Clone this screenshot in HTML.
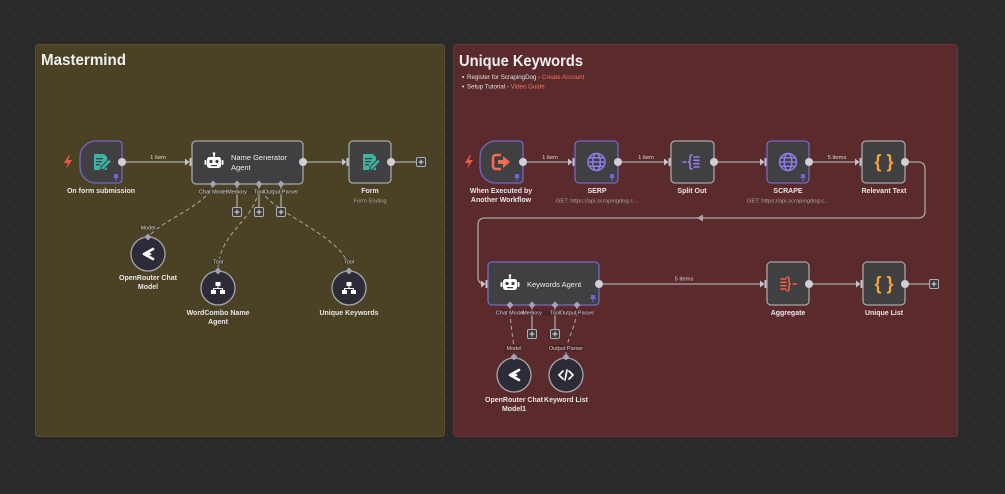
<!DOCTYPE html>
<html><head><meta charset="utf-8">
<style>
html,body{margin:0;padding:0;width:1005px;height:494px;overflow:hidden;background:#2a2a2a}
svg{display:block}
text{font-family:"Liberation Sans",sans-serif}
</style></head>
<body>
<svg width="1005" height="494" viewBox="0 0 1005 494" xmlns="http://www.w3.org/2000/svg">
<defs>
<pattern id="dots" width="12" height="12" patternUnits="userSpaceOnUse"><circle cx="3" cy="3" r="0.7" fill="#3d3d3d"/></pattern>
</defs>
<rect width="1005" height="494" fill="#2a2a2a"/>
<rect width="1005" height="494" fill="url(#dots)"/>

<!-- Panels -->
<rect x="35.5" y="44.5" width="409" height="392" rx="3" fill="#4b4226" stroke="#5a5030"/>
<rect x="453.5" y="44.5" width="504" height="392" rx="3" fill="#5b2a2d" stroke="#6a3538"/>

<text x="41" y="65" font-size="16" font-weight="bold" fill="#f0f0f0" textLength="85" lengthAdjust="spacingAndGlyphs">Mastermind</text>
<text x="459" y="66" font-size="16" font-weight="bold" fill="#f0f0f0" textLength="124" lengthAdjust="spacingAndGlyphs">Unique Keywords</text>
<circle cx="463" cy="77" r="1" fill="#ddd"/>
<text x="467" y="79" font-size="6.2" fill="#e0e0e0">Register for ScrapingDog - <tspan fill="#f07560">Create Account</tspan></text>
<circle cx="463" cy="86.5" r="1" fill="#ddd"/>
<text x="467" y="88.5" font-size="6.2" fill="#e0e0e0">Setup Tutorial - <tspan fill="#f07560">Video Guide</tspan></text>

<!-- ===== Solid connectors ===== -->
<g stroke="#a8a8a8" stroke-width="1.3" fill="none">
  <path d="M122,162 H186"/>
  <path d="M303,162 H343"/>
  <path d="M391,162 H417"/>
  <path d="M237,184 V208"/><path d="M259,184 V208"/><path d="M281,184 V208"/>
  <path d="M523,162 H569"/>
  <path d="M618,162 H665"/>
  <path d="M714,162 H761"/>
  <path d="M809,162 H856"/>
  <path d="M905,162 H918 Q925,162 925,169 V211 Q925,218 918,218 H485 Q478,218 478,225 V277 Q478,284 485,284 H482"/>
  <path d="M599,284 H761"/>
  <path d="M809,284 H857"/>
  <path d="M905,284 H930"/>
  <path d="M532,305 V330"/><path d="M555,305 V330"/>
</g>
<polygon points="703,214.5 697,218 703,221.5" fill="#a8a8a8"/>

<!-- ===== Dashed connectors ===== -->
<g stroke="#a0a0a0" stroke-width="1.1" fill="none" stroke-dasharray="4 3">
  <path d="M213,184 C208,205 165,218 148,237"/>
  <path d="M259,184 C259,220 218,230 218,271"/>
  <path d="M259,184 C262,212 349,235 349,271"/>
  <path d="M510,305 C510,330 514,335 514,357"/>
  <path d="M577,305 C577,330 566,335 566,357"/>
</g>

<!-- input arrows -->
<g fill="#c4c4c8">
  <polygon points="185,158.5 189.5,162 185,165.5"/><rect x="189.5" y="158" width="2.5" height="8"/>
  <polygon points="342,158.5 346.5,162 342,165.5"/><rect x="346.5" y="158" width="2.5" height="8"/>
  <polygon points="568,158.5 572.5,162 568,165.5"/><rect x="572.5" y="158" width="2.5" height="8"/>
  <polygon points="664,158.5 668.5,162 664,165.5"/><rect x="668.5" y="158" width="2.5" height="8"/>
  <polygon points="760,158.5 764.5,162 760,165.5"/><rect x="764.5" y="158" width="2.5" height="8"/>
  <polygon points="855,158.5 859.5,162 855,165.5"/><rect x="859.5" y="158" width="2.5" height="8"/>
  <polygon points="481,280.5 485.5,284 481,287.5"/><rect x="485.5" y="280" width="2.5" height="8"/>
  <polygon points="760,280.5 764.5,284 760,287.5"/><rect x="764.5" y="280" width="2.5" height="8"/>
  <polygon points="856,280.5 860.5,284 856,287.5"/><rect x="860.5" y="280" width="2.5" height="8"/>
</g>

<!-- edge labels -->
<g font-size="5.8" fill="#d4d4d4" text-anchor="middle">
  <text x="158" y="159">1 item</text>
  <text x="550" y="159">1 item</text>
  <text x="646" y="159">1 item</text>
  <text x="837" y="159">5 items</text>
  <text x="684" y="280.5">5 items</text>
</g>

<!-- ===== Nodes: Mastermind ===== -->
<path d="M96,141 H118 Q122,141 122,145 V179 Q122,183 118,183 H96 A16,16 0 0 1 80,167 V157 A16,16 0 0 1 96,141 Z" fill="#404042" stroke="#7766c4" stroke-width="1.3"/>
<path d="M69,155 L64,163 H68 L66,169 L72,160 H68 L70,155 Z" fill="#ef5a46"/>
<g transform="translate(101,162)">
  <path d="M-7,-8 H3 L6,-5 V8 H-7 Z" fill="#3db4a3"/>
  <rect x="-5" y="-4" width="7" height="1.3" fill="#404042"/>
  <rect x="-5" y="-1" width="6" height="1.3" fill="#404042"/>
  <rect x="-5" y="2" width="4" height="1.3" fill="#404042"/>
  <path d="M0,5 L8,-3 L10.5,-0.5 L2.5,7.5 L-0.5,8 Z" fill="#3db4a3" stroke="#404042" stroke-width="1"/>
</g>
<path transform="translate(116,177)" d="M-2,-3 H2 V0 L3,1 H-3 L-2,0 Z M-0.5,1 H0.5 V4 H-0.5 Z" fill="#7364e0"/>

<rect x="192" y="141" width="111" height="43" rx="4" fill="#404042" stroke="#a6a6a6" stroke-width="1.3"/>
<g transform="translate(214,162)" fill="#fff">
  <rect x="-7" y="-5" width="14" height="11" rx="2.5"/>
  <rect x="-9.5" y="-2" width="2" height="5" rx="1"/>
  <rect x="7.5" y="-2" width="2" height="5" rx="1"/>
  <rect x="-0.8" y="-8" width="1.6" height="3"/>
  <circle cx="0" cy="-8.5" r="1.3"/>
  <circle cx="-3" cy="-0.5" r="1.6" fill="#404042"/>
  <circle cx="3" cy="-0.5" r="1.6" fill="#404042"/>
  <rect x="-3" y="3" width="6" height="1.2" fill="#404042"/>
</g>
<text x="231" y="160" font-size="7.5" fill="#eeeeee">Name Generator</text>
<text x="231" y="170" font-size="7.5" fill="#eeeeee">Agent</text>

<rect x="349" y="141" width="42" height="42" rx="4" fill="#404042" stroke="#a6a6a6" stroke-width="1.3"/>
<g transform="translate(370,162)">
  <path d="M-7,-8 H3 L6,-5 V8 H-7 Z" fill="#3db4a3"/>
  <rect x="-5" y="-4" width="7" height="1.3" fill="#404042"/>
  <rect x="-5" y="-1" width="6" height="1.3" fill="#404042"/>
  <rect x="-5" y="2" width="4" height="1.3" fill="#404042"/>
  <path d="M0,5 L8,-3 L10.5,-0.5 L2.5,7.5 L-0.5,8 Z" fill="#3db4a3" stroke="#404042" stroke-width="1"/>
</g>

<!-- ===== Nodes: Unique Keywords ===== -->
<path d="M496,141 H519 Q523,141 523,145 V179 Q523,183 519,183 H496 A16,16 0 0 1 480,167 V157 A16,16 0 0 1 496,141 Z" fill="#404042" stroke="#7766c4" stroke-width="1.3"/>
<path d="M470,155 L465,163 H469 L467,169 L473,160 H469 L471,155 Z" fill="#ef5a46"/>
<g transform="translate(501,162)">
  <path d="M0,-7 H-5 Q-8,-7 -8,-4 V4 Q-8,7 -5,7 H0" stroke="#f46b4f" stroke-width="2.6" fill="none"/>
  <path d="M-3,-2 H2 V-6 L9,0 L2,6 V2 H-3 Z" fill="#f46b4f"/>
</g>
<path transform="translate(517,177)" d="M-2,-3 H2 V0 L3,1 H-3 L-2,0 Z M-0.5,1 H0.5 V4 H-0.5 Z" fill="#7364e0"/>

<rect x="575" y="141" width="43" height="42" rx="4" fill="#404042" stroke="#7766c4" stroke-width="1.3"/>
<g transform="translate(596.5,162)" stroke="#8b7ee6" stroke-width="1.5" fill="none">
  <circle r="8.5"/><ellipse rx="3.8" ry="8.5"/><path d="M-8.5,0 H8.5 M-7.3,-4.2 H7.3 M-7.3,4.2 H7.3"/>
</g>
<path transform="translate(612,177)" d="M-2,-3 H2 V0 L3,1 H-3 L-2,0 Z M-0.5,1 H0.5 V4 H-0.5 Z" fill="#7364e0"/>

<rect x="671" y="141" width="43" height="42" rx="4" fill="#404042" stroke="#a6a6a6" stroke-width="1.3"/>
<g transform="translate(692,162)" stroke="#9b7de8" stroke-width="1.6" fill="none" stroke-linecap="round">
  <path d="M-9,0 H-6"/>
  <path d="M0,-7 Q-2,-7 -2,-5 V-2 Q-2,0 -4,0 Q-2,0 -2,2 V5 Q-2,7 0,7"/>
  <path d="M2,-5 H7 M2,-1.7 H7 M2,1.7 H7 M2,5 H7"/>
</g>

<rect x="767" y="141" width="42" height="42" rx="4" fill="#404042" stroke="#7766c4" stroke-width="1.3"/>
<g transform="translate(788,162)" stroke="#8b7ee6" stroke-width="1.5" fill="none">
  <circle r="8.5"/><ellipse rx="3.8" ry="8.5"/><path d="M-8.5,0 H8.5 M-7.3,-4.2 H7.3 M-7.3,4.2 H7.3"/>
</g>
<path transform="translate(803,177)" d="M-2,-3 H2 V0 L3,1 H-3 L-2,0 Z M-0.5,1 H0.5 V4 H-0.5 Z" fill="#7364e0"/>

<rect x="862" y="141" width="43" height="42" rx="4" fill="#404042" stroke="#a6a6a6" stroke-width="1.3"/>
<text x="884" y="167.5" font-size="18" font-weight="bold" fill="#f5a33a" text-anchor="middle">{ }</text>

<rect x="488" y="262" width="111" height="43" rx="4" fill="#404042" stroke="#7766c4" stroke-width="1.3"/>
<g transform="translate(510,284)" fill="#fff">
  <rect x="-7" y="-5" width="14" height="11" rx="2.5"/>
  <rect x="-9.5" y="-2" width="2" height="5" rx="1"/>
  <rect x="7.5" y="-2" width="2" height="5" rx="1"/>
  <rect x="-0.8" y="-8" width="1.6" height="3"/>
  <circle cx="0" cy="-8.5" r="1.3"/>
  <circle cx="-3" cy="-0.5" r="1.6" fill="#404042"/>
  <circle cx="3" cy="-0.5" r="1.6" fill="#404042"/>
  <rect x="-3" y="3" width="6" height="1.2" fill="#404042"/>
</g>
<text x="527" y="287" font-size="7.5" fill="#eeeeee">Keywords Agent</text>
<path transform="translate(593,298)" d="M-2,-3 H2 V0 L3,1 H-3 L-2,0 Z M-0.5,1 H0.5 V4 H-0.5 Z" fill="#7364e0"/>

<rect x="767" y="262" width="42" height="43" rx="4" fill="#404042" stroke="#a6a6a6" stroke-width="1.3"/>
<g transform="translate(788,284)" stroke="#ef5b45" stroke-width="1.6" fill="none" stroke-linecap="round">
  <path d="M-7,-5 H-2 M-7,-1.7 H-2 M-7,1.7 H-2 M-7,5 H-2"/>
  <path d="M-1,-7 Q1,-7 1,-5 V-2 Q1,0 3,0 Q1,0 1,2 V5 Q1,7 -1,7"/>
  <path d="M5,0 H8.5"/>
</g>

<rect x="863" y="262" width="42" height="43" rx="4" fill="#404042" stroke="#a6a6a6" stroke-width="1.3"/>
<text x="884" y="289.5" font-size="18" font-weight="bold" fill="#f5a33a" text-anchor="middle">{ }</text>

<!-- output handles -->
<g fill="#d0d0d4">
  <circle cx="122" cy="162" r="4"/><circle cx="303" cy="162" r="4"/><circle cx="391" cy="162" r="4"/>
  <circle cx="523" cy="162" r="4"/><circle cx="618" cy="162" r="4"/><circle cx="714" cy="162" r="4"/>
  <circle cx="809" cy="162" r="4"/><circle cx="905" cy="162" r="4"/>
  <circle cx="599" cy="284" r="4"/><circle cx="809" cy="284" r="4"/><circle cx="905" cy="284" r="4"/>
</g>

<!-- plus boxes -->
<g stroke-width="1">
  <g transform="translate(421,162)"><rect x="-4.5" y="-4.5" width="9" height="9" rx="1.5" fill="#3c3c3e" stroke="#b0b0b0"/><path d="M-2.5,0 H2.5 M0,-2.5 V2.5" stroke="#e0e0e0"/></g>
  <g transform="translate(237,212)"><rect x="-4.5" y="-4.5" width="9" height="9" rx="1.5" fill="#3c3c3e" stroke="#b0b0b0"/><path d="M-2.5,0 H2.5 M0,-2.5 V2.5" stroke="#e0e0e0"/></g>
  <g transform="translate(259,212)"><rect x="-4.5" y="-4.5" width="9" height="9" rx="1.5" fill="#3c3c3e" stroke="#b0b0b0"/><path d="M-2.5,0 H2.5 M0,-2.5 V2.5" stroke="#e0e0e0"/></g>
  <g transform="translate(281,212)"><rect x="-4.5" y="-4.5" width="9" height="9" rx="1.5" fill="#3c3c3e" stroke="#b0b0b0"/><path d="M-2.5,0 H2.5 M0,-2.5 V2.5" stroke="#e0e0e0"/></g>
  <g transform="translate(532,334)"><rect x="-4.5" y="-4.5" width="9" height="9" rx="1.5" fill="#3c3c3e" stroke="#b0b0b0"/><path d="M-2.5,0 H2.5 M0,-2.5 V2.5" stroke="#e0e0e0"/></g>
  <g transform="translate(555,334)"><rect x="-4.5" y="-4.5" width="9" height="9" rx="1.5" fill="#3c3c3e" stroke="#b0b0b0"/><path d="M-2.5,0 H2.5 M0,-2.5 V2.5" stroke="#e0e0e0"/></g>
  <g transform="translate(934,284)"><rect x="-4.5" y="-4.5" width="9" height="9" rx="1.5" fill="#3c3c3e" stroke="#b0b0b0"/><path d="M-2.5,0 H2.5 M0,-2.5 V2.5" stroke="#e0e0e0"/></g>
</g>

<!-- agent bottom handle diamonds -->
<g fill="#a3a3b8">
  <polygon points="213,180.5 216.5,184 213,187.5 209.5,184"/>
  <polygon points="237,180.5 240.5,184 237,187.5 233.5,184"/>
  <polygon points="259,180.5 262.5,184 259,187.5 255.5,184"/>
  <polygon points="281,180.5 284.5,184 281,187.5 277.5,184"/>
  <polygon points="510,301.5 513.5,305 510,308.5 506.5,305"/>
  <polygon points="532,301.5 535.5,305 532,308.5 528.5,305"/>
  <polygon points="555,301.5 558.5,305 555,308.5 551.5,305"/>
  <polygon points="577,301.5 580.5,305 577,308.5 573.5,305"/>
</g>

<!-- handle labels -->
<g font-size="5.5" fill="#cfcfcf" text-anchor="middle">
  <rect x="199" y="188.5" width="96" height="6" fill="#3e3826" opacity="0.8"/>
  <text x="213" y="193.5">Chat Model</text>
  <text x="237" y="193.5">Memory</text>
  <text x="259" y="193.5">Tool</text>
  <text x="281" y="193.5">Output Parser</text>
  <rect x="496" y="309.5" width="96" height="6" fill="#4a2225" opacity="0.8"/>
  <text x="510" y="314.5">Chat Model</text>
  <text x="532" y="314.5">Memory</text>
  <text x="555" y="314.5">Tool</text>
  <text x="577" y="314.5">Output Parser</text>
</g>

<!-- circle sub-nodes -->
<g stroke="#a6a6a6" stroke-width="1.3" fill="#2b2c37">
  <circle cx="148" cy="254" r="17"/>
  <circle cx="218" cy="288" r="17"/>
  <circle cx="349" cy="288" r="17"/>
  <circle cx="514" cy="375" r="17"/>
  <circle cx="566" cy="375" r="17"/>
</g>
<g fill="#a3a3b8">
  <polygon points="148,233.5 151.5,237 148,240.5 144.5,237"/>
  <polygon points="218,267.5 221.5,271 218,274.5 214.5,271"/>
  <polygon points="349,267.5 352.5,271 349,274.5 345.5,271"/>
  <polygon points="514,353.5 517.5,357 514,360.5 510.5,357"/>
  <polygon points="566,353.5 569.5,357 566,360.5 562.5,357"/>
</g>
<g font-size="5.5" fill="#cfcfcf" text-anchor="middle">
  <rect x="139" y="224.5" width="18" height="6" fill="#3e3826" opacity="0.85"/>
  <text x="148" y="229.5">Model</text>
  <rect x="212" y="258.5" width="12" height="6" fill="#3e3826" opacity="0.85"/>
  <text x="218" y="263.5">Tool</text>
  <rect x="343" y="258.5" width="12" height="6" fill="#3e3826" opacity="0.85"/>
  <text x="349" y="263.5">Tool</text>
  <rect x="505" y="345" width="18" height="6" fill="#4a2225" opacity="0.85"/>
  <text x="514" y="350">Model</text>
  <rect x="548" y="345" width="36" height="6" fill="#4a2225" opacity="0.85"/>
  <text x="566" y="350">Output Parser</text>
</g>

<!-- circle icons -->
<g stroke="#fff" stroke-width="2.6" fill="none" stroke-linecap="round" stroke-linejoin="round">
  <path d="M153,249 L144,254 L153,259 M144,254 H150"/>
  <path d="M519,370 L510,375 L519,380 M510,375 H516"/>
</g>
<g stroke="#fff" stroke-width="1.7" fill="none" stroke-linecap="round" stroke-linejoin="round">
  <path d="M563,371 L559,375 L563,379 M569,371 L573,375 L569,379 M567,370 L565,380"/>
</g>
<g fill="#fff">
  <g transform="translate(218,288)">
    <rect x="-2.5" y="-6" width="5" height="4"/><rect x="-0.5" y="-2" width="1" height="2.5"/>
    <rect x="-5" y="0" width="10" height="1"/><rect x="-5" y="0" width="1" height="2"/><rect x="4" y="0" width="1" height="2"/>
    <rect x="-7" y="2" width="5" height="4"/><rect x="2" y="2" width="5" height="4"/>
  </g>
  <g transform="translate(349,288)">
    <rect x="-2.5" y="-6" width="5" height="4"/><rect x="-0.5" y="-2" width="1" height="2.5"/>
    <rect x="-5" y="0" width="10" height="1"/><rect x="-5" y="0" width="1" height="2"/><rect x="4" y="0" width="1" height="2"/>
    <rect x="-7" y="2" width="5" height="4"/><rect x="2" y="2" width="5" height="4"/>
  </g>
</g>

<!-- node labels -->
<g font-size="7" font-weight="bold" fill="#e6e6e6" text-anchor="middle">
  <text x="101" y="193">On form submission</text>
  <text x="370" y="193">Form</text>
  <text x="148" y="280">OpenRouter Chat</text>
  <text x="148" y="289">Model</text>
  <text x="218" y="315">WordCombo Name</text>
  <text x="218" y="324">Agent</text>
  <text x="349" y="315">Unique Keywords</text>
  <text x="501" y="193">When Executed by</text>
  <text x="501" y="202">Another Workflow</text>
  <text x="597" y="193">SERP</text>
  <text x="692" y="193">Split Out</text>
  <text x="788" y="193">SCRAPE</text>
  <text x="884" y="193">Relevant Text</text>
  <text x="788" y="315">Aggregate</text>
  <text x="884" y="315">Unique List</text>
  <text x="514" y="402">OpenRouter Chat</text>
  <text x="514" y="411">Model1</text>
  <text x="566" y="402">Keyword List</text>
</g>
<g font-size="5.8" fill="#a6a6a6" text-anchor="middle">
  <text x="370" y="202.5">Form Ending</text>
  <text x="597" y="202.5">GET: https://api.scrapingdog.c...</text>
  <text x="788" y="202.5">GET: https://api.scrapingdog.c...</text>
</g>
</svg>
</body></html>
